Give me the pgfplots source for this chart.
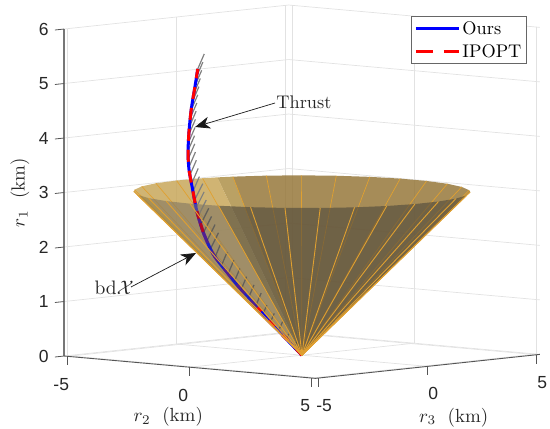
\documentclass[border=0pt]{standalone}
\usepackage{fontspec}
\usepackage{amsmath}
\usepackage{graphicx}
\usepackage{pgfplots}
\usepackage{pgfplotstable}
\pgfplotsset{compat=1.18}
\usetikzlibrary{arrows.meta}
\newfontfamily\ticksans{Liberation Sans}
\definecolor{backc}{HTML}{96783B}
\definecolor{backm}{HTML}{AE9049}
\definecolor{backl}{HTML}{C8A75A}
\definecolor{frontc}{HTML}{4C463A}
\definecolor{frontl}{HTML}{807662}
\definecolor{fronts}{HTML}{8A7848}
\definecolor{gen}{HTML}{E0A030}
\definecolor{gridc}{HTML}{E2E2E2}
\definecolor{axc}{HTML}{555555}
\pgfplotstableread{
x y z
0 0 0
-.50 -.45 .42
-.79 -.72 .66
-1.33 -1.21 1.156
-1.70 -1.54 1.52
-2.01 -1.82 1.85
-2.24 -2.03 2.26
-2.38 -2.16 2.64
-2.49 -2.26 3.10
-2.56 -2.32 3.41
-2.58 -2.34 3.72
-2.56 -2.32 4.09
-2.51 -2.27 4.51
-2.43 -2.20 4.90
-2.36 -2.14 5.25
}\traj
\pgfplotstableread{
x y z
0 0 0
-.50 -.45 .42
-.79 -.72 .66
-1.00 -.91 .88
}\trajlow
\pgfplotstableread{
x y z u v w
-.18 -.16 .15 .056 .051 .092
-.36 -.32 .30 .056 .051 .092
-.53 -.48 .45 .09 .082 .165
-.72 -.65 .60 .09 .082 .165
-.89 -.80 .75 .09 .082 .165
-1.05 -.95 .90 .124 .113 .239
-1.21 -1.10 1.05 .124 .113 .239
-1.38 -1.25 1.20 .124 .113 .239
-1.53 -1.39 1.35 .124 .113 .239
-1.67 -1.51 1.50 .124 .113 .239
-1.82 -1.65 1.65 .124 .113 .239
-1.97 -1.78 1.80 .124 .113 .239
-2.07 -1.88 1.95 .181 .164 .294
-2.15 -1.95 2.10 .181 .164 .294
-2.23 -2.02 2.25 .181 .164 .294
-2.29 -2.08 2.40 .181 .164 .294
-2.35 -2.13 2.55 .181 .164 .294
-2.40 -2.17 2.70 .181 .164 .294
-2.43 -2.20 2.85 .181 .164 .294
-2.47 -2.24 3.00 .147 .133 .275
-2.50 -2.26 3.15 .147 .133 .275
-2.54 -2.30 3.30 .147 .133 .275
-2.56 -2.32 3.45 .147 .133 .275
-2.58 -2.33 3.60 .147 .133 .275
-2.58 -2.34 3.75 .147 .133 .275
-2.57 -2.33 3.90 .147 .133 .275
-2.56 -2.32 4.05 .147 .133 .275
-2.55 -2.30 4.20 .147 .133 .275
-2.53 -2.29 4.35 .147 .133 .275
-2.51 -2.27 4.50 .147 .133 .275
-2.48 -2.25 4.65 .147 .133 .275
-2.45 -2.22 4.80 .147 .133 .275
-2.42 -2.19 4.95 .147 .133 .275
-2.39 -2.17 5.10 .147 .133 .275
-2.36 -2.14 5.25 .147 .133 .275
}\thrust
\pgfplotstableread{
x y z u v w
-.18 -.16 .15 .056 .051 .092
-.36 -.32 .30 .056 .051 .092
-.53 -.48 .45 .09 .082 .165
-.72 -.65 .60 .09 .082 .165
-.89 -.80 .75 .09 .082 .165
-1.05 -.95 .90 .124 .113 .239
-1.21 -1.10 1.05 .124 .113 .239
-1.38 -1.25 1.20 .124 .113 .239
-1.53 -1.39 1.35 .124 .113 .239
-1.67 -1.51 1.50 .124 .113 .239
-1.82 -1.65 1.65 .124 .113 .239
-1.97 -1.78 1.80 .124 .113 .239
-2.07 -1.88 1.95 .181 .164 .294
-2.15 -1.95 2.10 .181 .164 .294
-2.23 -2.02 2.25 .181 .164 .294
-2.29 -2.08 2.40 .181 .164 .294
}\thrustlow
\pgfplotstableread{
x y z
-1.00 -.91 .88
-1.33 -1.21 1.156
-1.70 -1.54 1.52
-2.01 -1.82 1.85
-2.24 -2.03 2.26
-2.38 -2.16 2.64
}\trajmid
\pgfplotstableread{
x y z
-2.24 -2.03 2.26
-2.38 -2.16 2.64
}\trajred
\pgfplotstableread{
x y z u v w
0 0 0 3.82 3.44 3
0 0 0 4.45 2.57 3
0 0 0 4.89 1.59 3
0 0 0 5.11 .54 3
0 0 0 5.11 -.54 3
0 0 0 4.89 -1.59 3
0 0 0 4.45 -2.57 3
0 0 0 3.82 -3.44 3
0 0 0 3.02 -4.16 3
0 0 0 2.09 -4.70 3
0 0 0 1.07 -5.03 3
0 0 0 0 -5.14 3
0 0 0 -1.07 -5.03 3
0 0 0 -2.09 -4.70 3
0 0 0 -3.02 -4.16 3
0 0 0 -3.82 -3.44 3
}\frontgen
\pgfplotstableread{
x y z u v w
0 0 0 3.44 3.82 3
0 0 0 2.57 4.45 3
0 0 0 1.59 4.89 3
0 0 0 .54 5.11 3
0 0 0 -.54 5.11 3
0 0 0 -1.59 4.89 3
0 0 0 -2.57 4.45 3
0 0 0 -3.44 3.82 3
0 0 0 -4.16 3.02 3
0 0 0 -4.70 2.09 3
0 0 0 -5.03 1.07 3
0 0 0 -5.14 0 3
0 0 0 -5.03 -1.07 3
0 0 0 -4.70 -2.09 3
0 0 0 -4.16 -3.02 3
}\backgen
\pgfplotstableread{
x y z u v w
-5 -5.15 0 0 0 -.165
0 -5.15 0 0 0 -.165
5 -5.15 0 0 0 -.165
5.15 -5 0 0 0 -.165
5.15 0 0 0 0 -.165
5.15 5 0 0 0 -.165
-5.15 -5.15 0 0 -.42 0
-5.15 -5.15 1 0 -.42 0
-5.15 -5.15 2 0 -.42 0
-5.15 -5.15 3 0 -.42 0
-5.15 -5.15 4 0 -.42 0
-5.15 -5.15 5 0 -.42 0
-5.15 -5.15 6 0 -.42 0
}\tickdata
\begin{document}
\begin{tikzpicture}[x=1pt,y=1pt]
\path[use as bounding box] (0,0) rectangle (550,429);
\begin{axis}[
  at={(302pt,73.8pt)},anchor=origin,
  x={(24.4pt,-2.17pt)},y={(21.8pt,2.33pt)},z={(0pt,54.5pt)},
  xmin=-5.15,xmax=5.15,ymin=-5.15,ymax=5.15,zmin=0,zmax=6,
  clip=false,
  axis line style={draw=none},
  grid=major,grid style={gridc,line width=0.7pt},
  major tick length=0pt,
  xtick={-5,0,5},ytick={-5,0,5},ztick={0,1,2,3,4,5,6},
  xticklabels={-5,0,5},yticklabels={-5,0,5},zticklabels={0,1,2,3,4,5,6},
  tick label style={font=\ticksans\fontsize{17.5}{17.5}\selectfont,text=black!85},
  xticklabel style={anchor=center,xshift=-6.5pt,yshift=-28pt},
  yticklabel style={anchor=center,xshift=5.5pt,yshift=-27.5pt},
  zticklabel style={anchor=east,xshift=-12pt},
  xlabel={$r_2$\; (km)},ylabel={$r_3$\; (km)},zlabel={$r_1$\; (km)},
  label style={scale=1.9,text=black!85},
  x label style={at={(rel axis cs:0.5,0,0)},anchor=center,xshift=-11.3pt,yshift=-26pt},
  y label style={at={(rel axis cs:1,0.5,0)},anchor=center,xshift=13.7pt,yshift=-26.8pt},
  z label style={at={(rel axis cs:0,0,0.5)},anchor=center,rotate=0,yshift=23.2pt,xshift=0pt},
  legend cell align=left,
  legend style={at={(axis description cs:0.9725,0.97)},anchor=north east,draw=black!60,line width=0.8pt,
     inner xsep=3pt,inner ysep=2.5pt,row sep=5pt},
  legend image code/.code={\draw[#1] (0pt,0pt) -- (43pt,0pt);},
]
% axis lines and ticks
\addplot3[forget plot,axc!80,line width=1.3pt,mark=none] coordinates {(-5.15,-5.15,6) (-5.15,-5.15,0)};
\addplot3[forget plot,axc,line width=0.9pt,mark=none] coordinates {(-5.15,-5.15,0) (5.15,-5.15,0) (5.15,5.15,0)};
\addplot3[forget plot,axc,line width=0.8pt,-,quiver={u=\thisrow{u},v=\thisrow{v},w=\thisrow{w}}] table {\tickdata};
% back half of the cone
\addplot3[forget plot,fill=backc,fill opacity=0.85,draw=none,mark=none] coordinates {(0,0,0) (3.82,3.44,3) (3.44,3.82,3) (2.57,4.45,3) (1.59,4.89,3) (.54,5.11,3) (-.54,5.11,3) (-1.59,4.89,3) (-2.57,4.45,3) (-3.44,3.82,3) (-4.16,3.02,3) (-4.70,2.09,3)} -- cycle;
\addplot3[forget plot,fill=backm,fill opacity=0.85,draw=none,mark=none] coordinates {(0,0,0) (-4.70,2.09,3) (-4.89,1.59,3)} -- cycle;
\addplot3[forget plot,fill=backl,fill opacity=0.85,draw=none,mark=none] coordinates {(0,0,0) (-4.89,1.59,3) (-5.03,1.07,3) (-5.14,0,3) (-5.03,-1.07,3) (-4.70,-2.09,3) (-4.16,-3.02,3) (-3.82,-3.44,3)} -- cycle;
\addplot3[forget plot,gen,line width=0.7pt,-,quiver={u=\thisrow{u},v=\thisrow{v},w=\thisrow{w}}] table {\backgen};
% thrust and trajectory
\addplot3[forget plot,gray,line width=1.2pt,-,quiver={u=\thisrow{u},v=\thisrow{v},w=\thisrow{w}}] table {\thrust};
\addplot3[forget plot,blue,line width=3pt,mark=none,smooth] table {\traj};
\addplot3[forget plot,red,line width=3pt,mark=none,smooth,dash pattern=on 12pt off 9pt] table {\traj};
\addlegendimage{blue,line width=3pt}
\addlegendentry{\scalebox{1.83}{Ours}}
\addlegendimage{red,line width=3pt,dash pattern=on 17pt off 11pt}
\addlegendentry{\scalebox{1.83}{IPOPT}}
% front half of the cone
\addplot3[forget plot,fill=frontc,fill opacity=0.6,draw=none,mark=none] coordinates {(0,0,0) (3.82,3.44,3) (4.45,2.57,3) (4.89,1.59,3) (5.11,.54,3) (5.11,-.54,3) (4.89,-1.59,3) (4.45,-2.57,3) (3.82,-3.44,3) (3.02,-4.16,3) (2.09,-4.70,3) (1.07,-5.03,3)} -- cycle;
\addplot3[forget plot,fill=frontl,fill opacity=0.6,draw=none,mark=none] coordinates {(0,0,0) (1.07,-5.03,3) (0,-5.14,3) (-1.07,-5.03,3) (-2.09,-4.70,3)} -- cycle;
\addplot3[forget plot,fill=fronts,fill opacity=0.6,draw=none,mark=none] coordinates {(0,0,0) (-2.09,-4.70,3) (-3.02,-4.16,3) (-3.82,-3.44,3)} -- cycle;
% what shows through the front of the cone
\addplot3[forget plot,black!75,opacity=0.45,line width=1.2pt,-,quiver={u=\thisrow{u},v=\thisrow{v},w=\thisrow{w}}] table {\thrustlow};
\addplot3[forget plot,blue!85!black,opacity=0.55,line width=3pt,mark=none,smooth] table {\trajmid};
\addplot3[forget plot,red!85!black,opacity=0.8,line width=3pt,mark=none,dash pattern=on 9pt off 5pt] table {\trajred};
% lowest part of the trajectory, on the outline of the cone
\addplot3[forget plot,blue,line width=3pt,mark=none] table {\trajlow};
\addplot3[forget plot,red,line width=3pt,mark=none,dash pattern=on 8pt off 12pt] table {\trajlow};
\addplot3[forget plot,gen,line width=0.9pt,-,quiver={u=\thisrow{u},v=\thisrow{v},w=\thisrow{w}}] table {\frontgen};
\end{axis}
\draw[black!90,line width=0.7pt,-{Stealth[length=15pt,width=12pt,inset=4.5pt]}] (275,326) -- (195,302);
\node[scale=1.83,text=black!85,anchor=west,inner sep=0pt] at (276,327) {Thrust};
\draw[black!90,line width=0.7pt,-{Stealth[length=15pt,width=12pt,inset=4.5pt]}] (131,142) -- (196,176);
\node[scale=1.95,text=black!85,anchor=east,inner sep=0pt] at (134,141) {bd$\mathcal{X}$};
\end{tikzpicture}
\end{document}
